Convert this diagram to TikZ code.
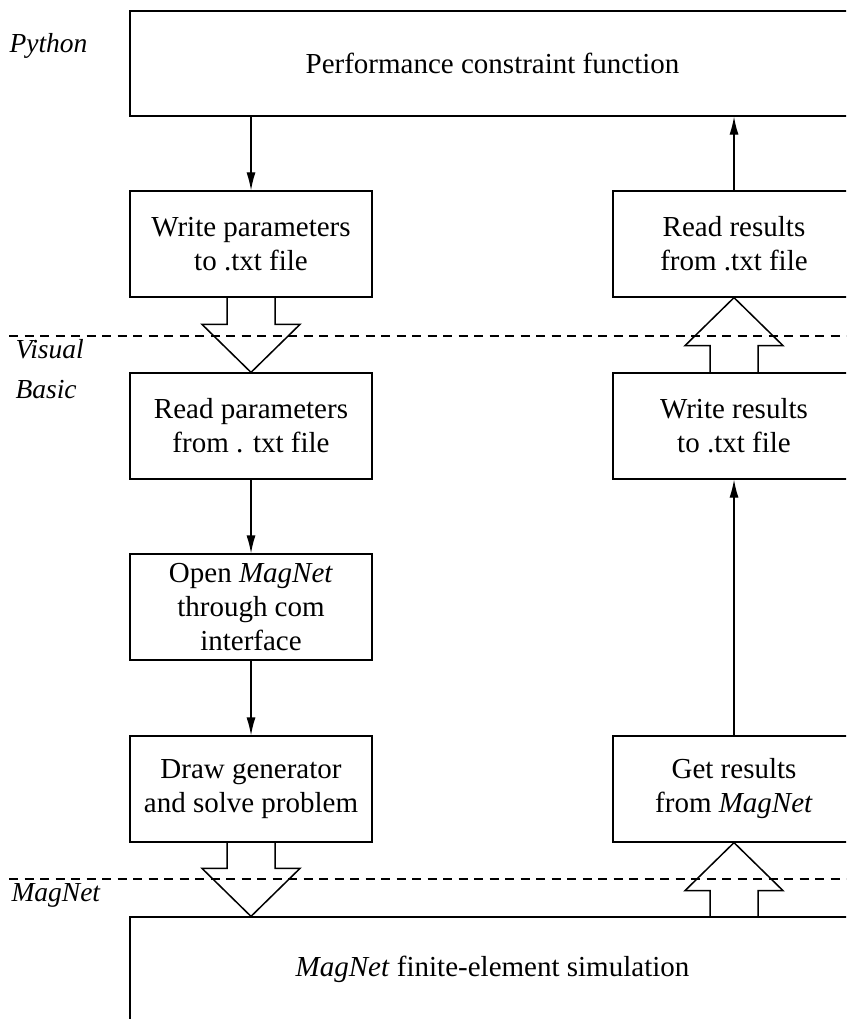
\documentclass[tikz,border=0pt]{standalone}
\usepackage{fontspec}
\setmainfont{Liberation Serif}
\usetikzlibrary{arrows.meta}

\begin{document}
\begin{tikzpicture}[x=0.4pt,y=-0.4pt,
    font=\fontsize{11.6}{13.6}\selectfont,
    box/.style={draw,line width=0.5pt,align=center,inner sep=0pt,minimum width=96.8pt,minimum height=42.4pt},
    wide/.style={box,minimum width=290pt,minimum height=42pt},
    lang/.style={font=\fontsize{11}{16}\selectfont\itshape,anchor=north west,align=left,inner sep=0pt},
    arr/.style={line width=0.5pt,-{Latex[length=7.2pt,width=3.6pt]}},
    hollow/.style={line width=0.6pt,line join=miter},
    layer/.style={line width=0.6pt,dash pattern=on 3.6pt off 2.6pt}]
        \clip (0,0) rectangle (846,1019);

        \node [wide] at (492.5,63.5) (perf) {Performance constraint function};
        \node [box] at (251,244) (wpar) {Write parameters\\to .txt file};
        \node [box] at (734,244) (rres) {Read results\\from .txt file};
        \node [box] at (251,426) (rpar) {Read parameters\\from . txt file};
        \node [box] at (734,426) (wres) {Write results\\to .txt file};
        \node [box] at (251,607) (open) {Open \textit{MagNet}\\through com\\interface};
        \node [box] at (251,789) (drw) {Draw generator\\and solve problem};
        \node [box] at (734,789) (getr) {Get results\\from \textit{MagNet}};
        \node [wide] at (492.5,969.5) (sim) {\textit{MagNet} finite-element simulation};

        \node [lang] at (9,33) (py) {Python};
        \node [lang] at (15,339) (vb) {Visual\\Basic};
        \node [lang] at (11,883) (mn) {MagNet};

        \draw [layer] (9,336) -- (860,336);
        \draw [layer] (9,879) -- (860,879);

        \draw [arr] (wpar.north |- perf.south) -- (wpar);
        \draw [arr] (rres) -- (rres.north |- perf.south);
        \draw [arr] (rpar) -- (open);
        \draw [arr] (open) -- (drw);
        \draw [arr] (getr) -- (wres);

        \coordinate (dtip) at (drw.south |- sim.north);
        \coordinate (ubase) at (getr.south |- sim.north);
        \foreach \s/\t in {wpar.south/rpar.north, drw.south/dtip}
          \draw [hollow] ([xshift=-9.6pt]\s) -- ([xshift=-9.6pt,yshift=19.2pt]\t)
            -- ([xshift=-19.6pt,yshift=19.2pt]\t) -- (\t)
            -- ([xshift=19.6pt,yshift=19.2pt]\t) -- ([xshift=9.6pt,yshift=19.2pt]\t)
            -- ([xshift=9.6pt]\s);
        \foreach \s/\t in {wres.north/rres.south, ubase/getr.south}
          \draw [hollow] ([xshift=-9.6pt]\s) -- ([xshift=-9.6pt,yshift=-19.2pt]\t)
            -- ([xshift=-19.6pt,yshift=-19.2pt]\t) -- (\t)
            -- ([xshift=19.6pt,yshift=-19.2pt]\t) -- ([xshift=9.6pt,yshift=-19.2pt]\t)
            -- ([xshift=9.6pt]\s);
      \end{tikzpicture}
\end{document}
